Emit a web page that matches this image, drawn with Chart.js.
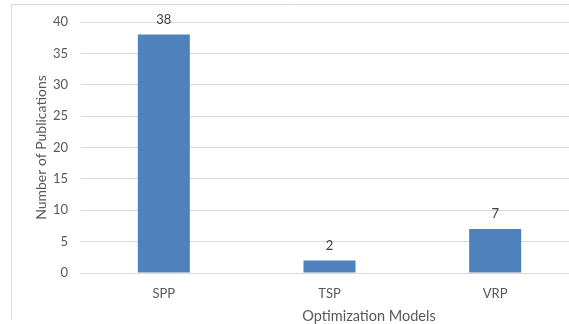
<!DOCTYPE html>
<html>
<head>
<meta charset="utf-8">
<script src="https://cdn.jsdelivr.net/npm/chart.js@4/dist/chart.umd.min.js"></script>
<style>
  html, body { margin: 0; padding: 0; background: #fff; overflow: hidden; }
  #wrap { position: absolute; left: 0; top: 0; width: 578px; height: 324px; }
</style>
</head>
<body>
<div id="wrap"><canvas id="chart"></canvas></div>
<script>
// Publications per optimization model
const categories = ['SPP', 'TSP', 'VRP'];
const publications = [38, 2, 7];
const yTicks = [0, 5, 10, 15, 20, 25, 30, 35, 40];

const FONT = 'Lato, "Open Sans", sans-serif';
const TEXT = '#595959';
const GRID = '#d9d9d9';

// Frame lines, value labels above bars, and the x-axis title
const decorations = {
  id: 'decorations',
  beforeDraw(chart) {
    const ctx = chart.ctx;
    ctx.save();
    ctx.strokeStyle = GRID;
    ctx.lineWidth = 1;
    ctx.beginPath();
    ctx.moveTo(11.5, 319);
    ctx.lineTo(11.5, 4.5);
    ctx.lineTo(chart.width, 4.5);
    ctx.stroke();
    ctx.restore();
  },
  afterDatasetsDraw(chart) {
    const ctx = chart.ctx;
    const meta = chart.getDatasetMeta(0);
    ctx.save();
    ctx.font = '13px ' + FONT;
    ctx.fillStyle = '#404040';
    ctx.textAlign = 'center';
    ctx.textBaseline = 'middle';
    meta.data.forEach((bar, i) => {
      ctx.fillText(String(chart.data.datasets[0].data[i]), bar.x, bar.y - 15);
    });
    ctx.font = '14.5px ' + FONT;
    ctx.fillStyle = TEXT;
    ctx.fillText('Optimization Models', 369, 316);
    ctx.restore();
  }
};

new Chart(document.getElementById('chart'), {
  type: 'bar',
  data: {
    labels: categories,
    datasets: [{
      data: publications,
      backgroundColor: '#4f81bd',
      borderWidth: 0,
      categoryPercentage: 1,
      barPercentage: 0.314
    }]
  },
  options: {
    responsive: true,
    maintainAspectRatio: false,
    animation: false,
    layout: { padding: { left: 0, right: 0, top: 22, bottom: 0 } },
    plugins: { legend: { display: false }, tooltip: { enabled: false } },
    scales: {
      x: {
        grid: { display: false, drawTicks: false },
        border: { display: false },
        ticks: {
          color: TEXT,
          font: { family: FONT, size: 13 },
          padding: 13,
          maxRotation: 0,
          autoSkip: false
        },
        afterFit(scale) { scale.height = 51; }
      },
      y: {
        min: 0,
        max: 40,
        afterBuildTicks(scale) { scale.ticks = yTicks.map(v => ({ value: v })); },
        grid: { color: GRID, lineWidth: 1, drawTicks: false },
        border: { display: false },
        ticks: {
          color: TEXT,
          font: { family: FONT, size: 13 },
          padding: 13
        },
        title: {
          display: true,
          text: 'Number of Publications',
          color: TEXT,
          font: { family: FONT, size: 14 },
          padding: { top: 32.6, bottom: 0 }
        },
        afterFit(scale) { scale.width = 81; }
      }
    }
  },
  plugins: [decorations]
});
</script>
</body>
</html>
